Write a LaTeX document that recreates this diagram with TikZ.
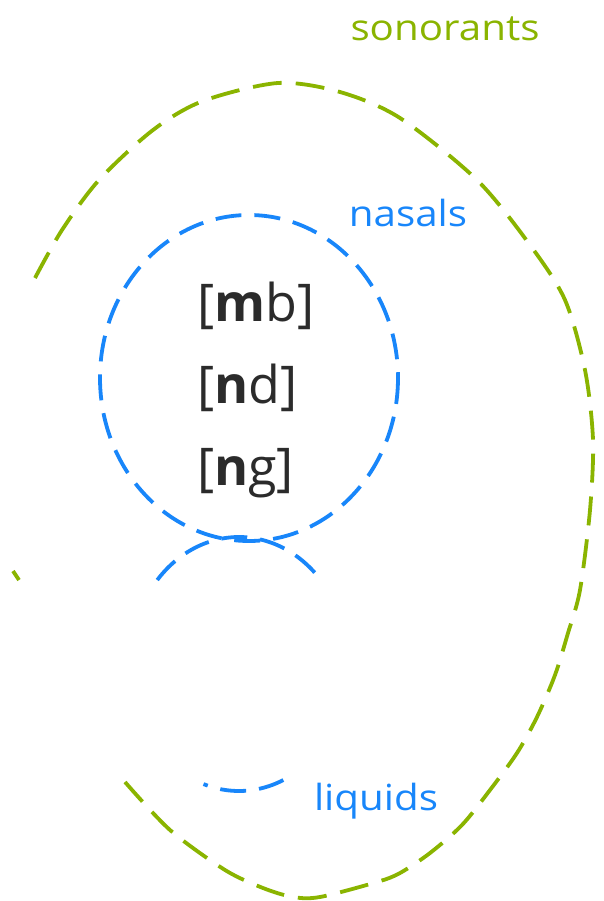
\documentclass[tikz,border=0pt]{standalone}
\usepackage{fontspec}
\setmainfont{Open Sans}
\newfontfamily\handfont{Open Sans}
\definecolor{sgreen}{RGB}{138,180,0}
\definecolor{sblue}{RGB}{24,134,250}
\definecolor{ink}{RGB}{43,43,43}
\begin{document}
\begin{tikzpicture}[x=1pt,y=-1pt,
  greenline/.style={draw=sgreen,line width=3.8pt,dash pattern=on 29pt off 14pt},
  blueline/.style={draw=sblue,line width=3.8pt,dash pattern=on 26pt off 13pt},
  hand/.style={font=\handfont\fontsize{36}{40}\selectfont, xscale=1.12, inner sep=0pt, anchor=base},
  phon/.style={font=\fontsize{52}{60}\selectfont, text=ink, inner sep=0pt, anchor=base west}]
\useasboundingbox (0,0) rectangle (603,901);
% sonorants outline (visible parts)
\draw[greenline] plot[smooth] coordinates {(35,278) (62,230) (99,180) (153,130) (203,101) (278,83) (340,92) (400,118) (477,180) (530,245) (565,300) (585,370) (593,440) (590,510) (580,590) (568,633) (555,675) (537,717) (517,753) (490,790) (462,825) (430,853) (400,873) (377,882) (320,897) (293,897) (263,888) (225,870) (170,830) (125,782)};
\draw[sgreen,line width=3.8pt] (13,571) -- (19,580);
% nasals circle
\draw[blueline] (249,378) ellipse [x radius=149, y radius=163];
% liquids circle (visible parts)
\draw[blueline] plot[domain=-138.6:-41.4,samples=40,smooth] ({239+109*cos(\x)},{664+127*sin(\x)});
\draw[blueline] plot[domain=66:109,samples=15,smooth] ({239+109*cos(\x)},{664+127*sin(\x)});
% labels
\node[hand,text=sgreen] (son) at (445,41) {sonorants};
\node[hand,text=sblue] (nas) at (408,226) {nasals};
\node[hand,text=sblue] (liq) at (376,810) {liquids};
\node[phon] (mb) at (197,321) {[\textbf{m}b]};
\node[phon] (nd) at (197,403) {[\textbf{n}d]};
\node[phon] (ng) at (197,485) {[\textbf{n}g]};
\end{tikzpicture}
\end{document}
